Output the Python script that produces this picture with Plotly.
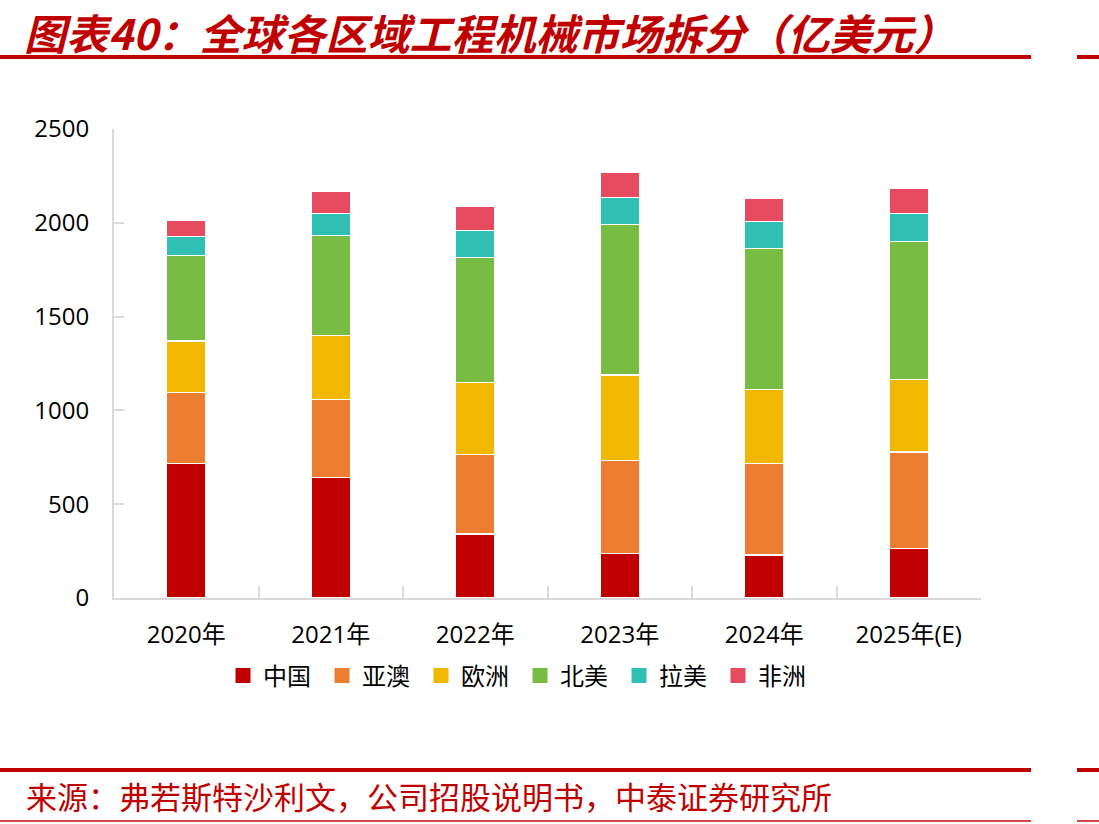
import plotly.graph_objects as go

W, H = 1099, 824

categories = ["2020年", "2021年", "2022年", "2023年", "2024年", "2025年(E)"]
series_names = ["中国", "亚澳", "欧洲", "北美", "拉美", "非洲"]
china = [718, 643, 340, 238, 228, 265]
asia_aus = [378, 416, 424, 496, 490, 513]
europe = [274, 341, 386, 456, 394, 388]
north_america = [455, 531, 664, 800, 752, 735]
latin_america = [101, 119, 144, 144, 144, 149]
africa = [85, 116, 128, 133, 122, 132]
y_ticks = [0, 500, 1000, 1500, 2000, 2500]

series_values = [china, asia_aus, europe, north_america, latin_america, africa]
colors = ["#C00000", "#ED7D31", "#F2B800", "#78BC43", "#30BFB3", "#E64B5F"]

title_text = "图表40：全球各区域工程机械市场拆分（亿美元）"
source_text = "来源：弗若斯特沙利文，公司招股说明书，中泰证券研究所"

fig = go.Figure()
for name, vals, col in zip(series_names, series_values, colors):
    fig.add_trace(go.Bar(
        x=categories, y=vals, name=name, showlegend=False,
        marker=dict(color=col, line=dict(color="white", width=1.5)),
    ))
# legend entries with larger square symbols
for name, col in zip(series_names, colors):
    fig.add_trace(go.Scatter(
        x=[None], y=[None], mode="markers", name=name,
        marker=dict(symbol="square", size=15, color=col),
    ))

# plot area in pixels
x0, x1 = 114, 981
y_top, y_bot = 129, 598

axis_col = "#D9D9D9"
tick_font = dict(family="Open Sans, Noto Sans CJK SC", size=24, color="#000000")

fig.update_layout(
    width=W, height=H,
    margin=dict(l=0, r=0, t=0, b=0),
    paper_bgcolor="white", plot_bgcolor="white",
    barmode="stack", bargap=0.73,
    showlegend=True,
    legend=dict(
        orientation="h", x=223 / W, xanchor="left",
        y=(H - 676) / H, yanchor="middle",
        font=dict(family="Noto Sans CJK SC", size=24, color="#000000"),
        traceorder="normal", entrywidth=54, entrywidthmode="pixels",
        bgcolor="rgba(0,0,0,0)",
    ),
    xaxis=dict(
        domain=[x0 / W, x1 / W],
        showline=True, linecolor=axis_col, linewidth=2,
        ticks="inside", tickson="boundaries", ticklen=12, tickwidth=2, tickcolor=axis_col,
        tickfont=tick_font, automargin=False, showgrid=False,
        ticklabelstandoff=14,
    ),
    yaxis=dict(
        domain=[(H - y_bot) / H, (H - y_top) / H],
        range=[0, 2500], tickvals=y_ticks,
        showline=True, linecolor=axis_col, linewidth=2,
        ticks="inside", ticklen=10, tickwidth=2, tickcolor=axis_col,
        tickfont=tick_font, automargin=False, showgrid=False, zeroline=False,
        ticklabelstandoff=18,
    ),
)

red = "#C00000"
# title
fig.add_annotation(
    text=title_text, xref="paper", yref="paper",
    x=22 / W, y=(H - 32) / H, xanchor="left", yanchor="middle", showarrow=False,
    font=dict(family="Noto Sans CJK SC", size=42, color=red, style="italic", weight="bold"),
)
# source
fig.add_annotation(
    text=source_text, xref="paper", yref="paper",
    x=24 / W, y=(H - 795) / H, xanchor="left", yanchor="middle", showarrow=False,
    font=dict(family="Noto Sans CJK SC", size=31, color=red),
)

def hline(py, xa, xb, width, color):
    fig.add_shape(type="line", xref="paper", yref="paper",
                  x0=xa / W, x1=xb / W, y0=(H - py) / H, y1=(H - py) / H,
                  line=dict(color=color, width=width))

for py, wdt, colr in [(57, 4, red), (770, 4, red), (821, 2, "#D4474A")]:
    hline(py, 0, 1031, wdt, colr)
    hline(py, 1077, 1099, wdt, colr)

fig.write_html("out.html")
